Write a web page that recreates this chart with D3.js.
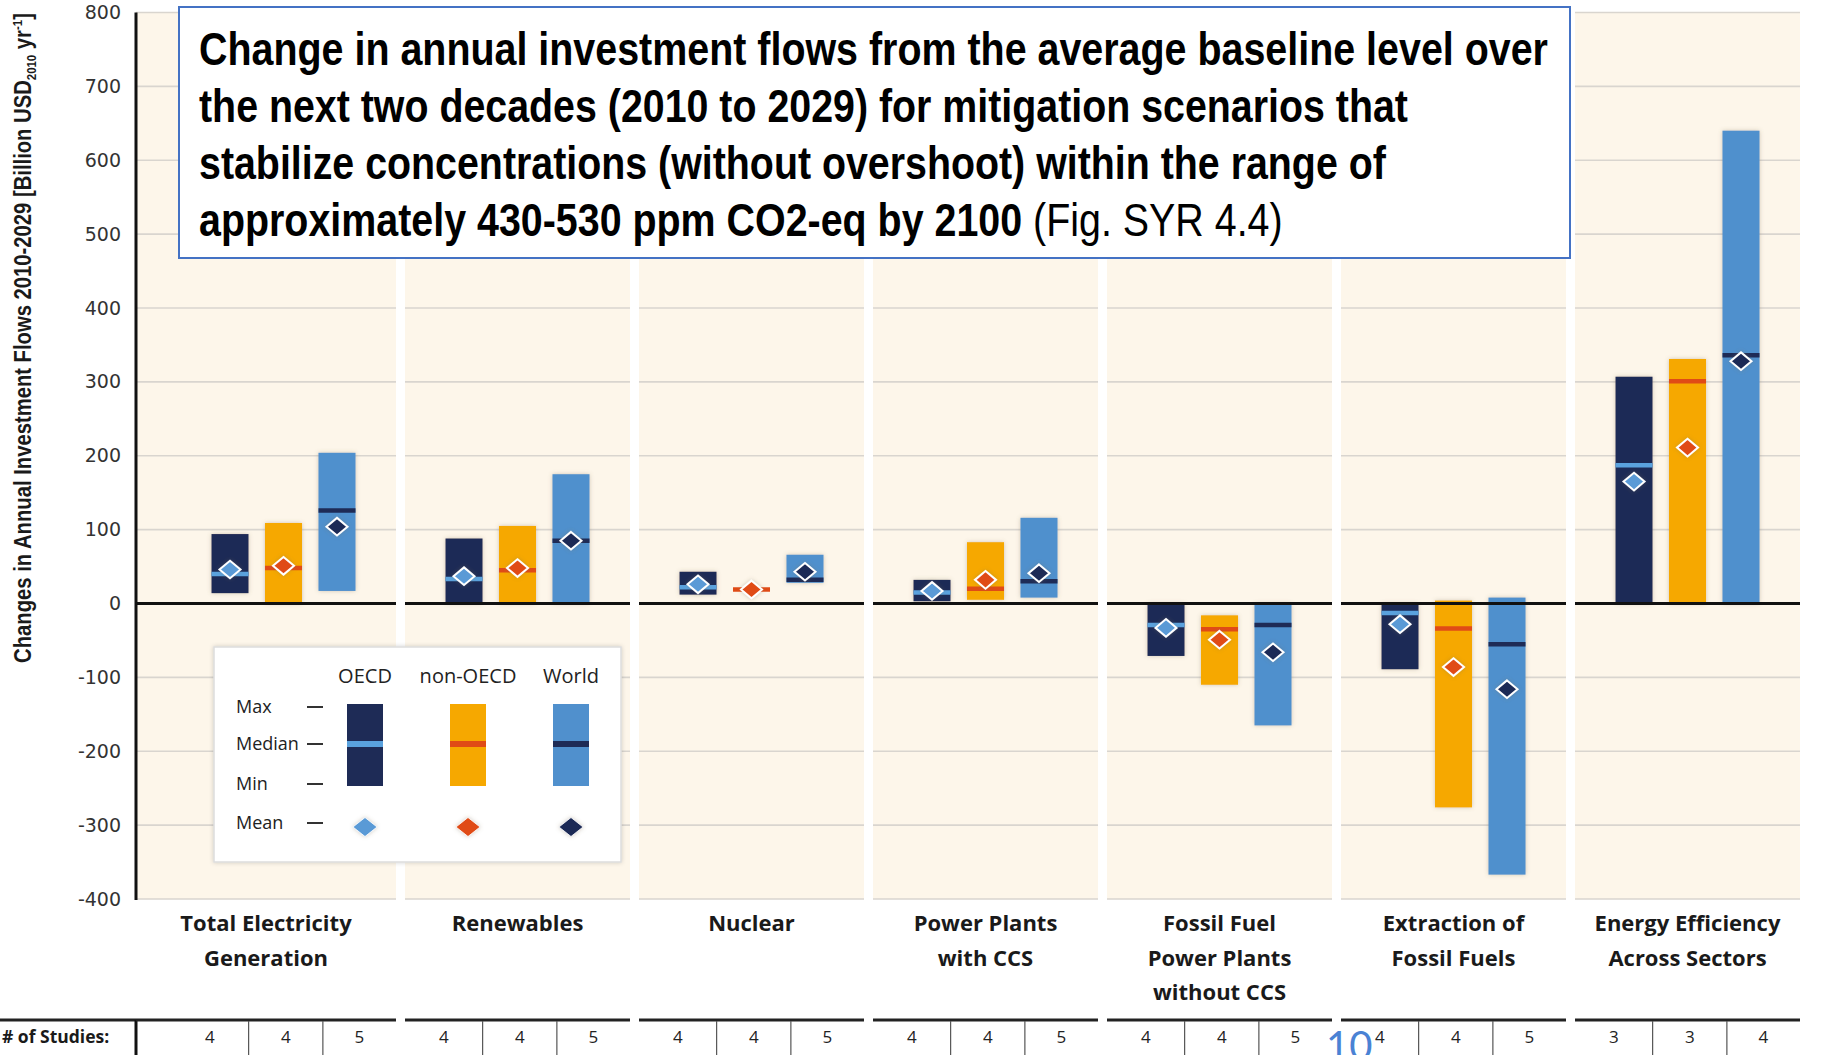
<!DOCTYPE html>
<html>
<head>
<meta charset="utf-8">
<script src="https://cdn.jsdelivr.net/npm/d3@7"></script>
<style>
  body { margin:0; background:#ffffff; }
  svg { display:block; }
</style>
</head>
<body>
<svg id="chart" width="1825" height="1055"></svg>
<script>
// ---- data (Billion USD2010 / yr) ----
var categories = [
  ["Total Electricity","Generation"],
  ["Renewables"],
  ["Nuclear"],
  ["Power Plants","with CCS"],
  ["Fossil Fuel","Power Plants","without CCS"],
  ["Extraction of","Fossil Fuels"],
  ["Energy Efficiency","Across Sectors"]
];
var regions = ["OECD","non-OECD","World"];

var oecdMax    = [ 94,  88, 43, 32,   0,    0, 307];
var oecdMin    = [ 14,   0, 12,  3, -71,  -89,   0];
var oecdMedian = [ 40,  33, 22, 15, -29,  -13, 187];
var oecdMean   = [ 46,  37, 26, 17, -33,  -28, 165];

var nonMax     = [109, 105, 19, 83, -16,    4, 331];
var nonMin     = [  0,   0, 19,  5, -110, -276,  0];
var nonMedian  = [ 48,  45, 19, 20, -35,  -34, 301];
var nonMean    = [ 51,  48, 19, 32, -49,  -86, 211];

var worldMax    = [204, 175, 66, 116,    0,    8, 640];
var worldMin    = [ 17,   0, 28,   8, -165, -367,   0];
var worldMedian = [126,  85, 32,  30,  -29,  -55, 336];
var worldMean   = [104,  85, 43,  41,  -66, -116, 328];

var studies = [[4,4,5],[4,4,5],[4,4,5],[4,4,5],[4,4,5],[4,4,5],[3,3,4]];

var yTicks = [-400,-300,-200,-100,0,100,200,300,400,500,600,700,800];

var barColor    = {"OECD":"#1e2b56","non-OECD":"#f6a800","World":"#5090cd"};
var medianColor = {"OECD":"#5aa2de","non-OECD":"#e04b16","World":"#1e2b56"};
var meanColor   = {"OECD":"#5a9ad6","non-OECD":"#e04b16","World":"#1e2b56"};

var series = {
  "OECD":    {max:oecdMax,  min:oecdMin,  median:oecdMedian,  mean:oecdMean},
  "non-OECD":{max:nonMax,   min:nonMin,   median:nonMedian,   mean:nonMean},
  "World":   {max:worldMax, min:worldMin, median:worldMedian, mean:worldMean}
};

var svg = d3.select("#chart");
var axisX = 136;

var catKeys = categories.map(function(c){ return c.join(" "); });

var x = d3.scaleBand().domain(catKeys).range([171, 1800]).paddingInner(0.0385).paddingOuter(0);
var inner = d3.scaleBand().domain(regions).range([40.5, 184.5]).paddingInner(0.308);
var y = d3.scaleLinear().domain([-400, 800]).range([899, 12.5]);

var defs = svg.append("defs");
var f = defs.append("filter").attr("id","shadow").attr("x","-30%").attr("y","-30%").attr("width","160%").attr("height","160%");
f.append("feDropShadow").attr("dx",0).attr("dy",0).attr("stdDeviation",2.2).attr("flood-color","#7a6a50").attr("flood-opacity",0.35);
var f2 = defs.append("filter").attr("id","boxshadow").attr("x","-10%").attr("y","-10%").attr("width","120%").attr("height","120%");
f2.append("feDropShadow").attr("dx",0).attr("dy",0).attr("stdDeviation",2).attr("flood-color","#000").attr("flood-opacity",0.18);

// squeeze a text element along its own direction so it spans the given length
function fitWidth(sel, len, base){
  var w = sel.node().getComputedTextLength();
  sel.attr("transform", base + " scale(" + (len/w) + ",1)");
}

// ---- panels ----
function panelLeft(i){ return i===0 ? axisX : x(catKeys[i]); }
function panelRight(i){ return x(catKeys[i]) + x.bandwidth(); }

var panels = svg.append("g");
catKeys.forEach(function(k, i){
  var x0 = panelLeft(i), x1 = panelRight(i);
  panels.append("rect")
    .attr("x", x0).attr("y", y(800))
    .attr("width", x1-x0).attr("height", y(-400)-y(800))
    .attr("fill","#fdf6ea");
  yTicks.forEach(function(t){
    if(t===0) return;
    panels.append("line")
      .attr("x1",x0).attr("x2",x1).attr("y1",y(t)).attr("y2",y(t))
      .attr("stroke","#d9d5cf").attr("stroke-width",1.6);
  });
});

// ---- bars ----
var marks = svg.append("g");
catKeys.forEach(function(k, i){
  regions.forEach(function(r){
    var s = series[r];
    var bx = x(k) + inner(r), bw = inner.bandwidth();
    var top = y(Math.max(s.max[i], s.min[i])), bot = y(Math.min(s.max[i], s.min[i]));
    if(bot-top > 0.5){
      marks.append("rect")
        .attr("x",bx).attr("y",top).attr("width",bw).attr("height",bot-top)
        .attr("fill",barColor[r]).attr("filter","url(#shadow)");
    }
  });
});

// zero line (per panel)
catKeys.forEach(function(k, i){
  svg.append("line")
    .attr("x1",panelLeft(i)).attr("x2",panelRight(i))
    .attr("y1",y(0)).attr("y2",y(0))
    .attr("stroke","#111").attr("stroke-width",3);
});

var marks2 = svg.append("g");
catKeys.forEach(function(k, i){
  regions.forEach(function(r){
    var s = series[r];
    var bx = x(k) + inner(r), bw = inner.bandwidth();
    marks2.append("line")
      .attr("x1",bx).attr("x2",bx+bw)
      .attr("y1",y(s.median[i])).attr("y2",y(s.median[i]))
      .attr("stroke",medianColor[r]).attr("stroke-width",4.5);
  });
});

function diamond(g, cx, cy, color, w, h, sw){
  g.append("path")
    .attr("d","M"+cx+","+(cy-h)+"L"+(cx+w)+","+cy+"L"+cx+","+(cy+h)+"L"+(cx-w)+","+cy+"Z")
    .attr("fill",color).attr("stroke","#ffffff").attr("stroke-width",sw)
    .attr("filter","url(#shadow)");
}
catKeys.forEach(function(k, i){
  regions.forEach(function(r){
    var s = series[r];
    var cx = x(k) + inner(r) + inner.bandwidth()/2;
    diamond(marks2, cx, y(s.mean[i]), meanColor[r], 10.5, 8.8, 2);
  });
});

// ---- y axis ----
svg.append("line").attr("x1",axisX).attr("x2",axisX).attr("y1",y(800)).attr("y2",y(-400)+1)
  .attr("stroke","#111").attr("stroke-width",3);

var yAxis = d3.axisLeft(y).tickValues(yTicks).tickSize(0).tickPadding(0)
  .tickFormat(function(d){ return String(d); });
var ya = svg.append("g").attr("transform","translate(121,0)").call(yAxis);
ya.select(".domain").remove();
ya.selectAll("text")
  .style("font-family","'DejaVu Sans', sans-serif").style("font-size","19px").attr("fill","#333");

var yt = svg.append("text")
  .attr("text-anchor","middle")
  .style("font-family","'Liberation Sans', Arial, sans-serif")
  .style("font-size","23px").style("font-weight","bold").attr("fill","#1a1a1a");
yt.append("tspan").text("Changes in Annual Investment Flows 2010-2029 [Billion USD");
yt.append("tspan").attr("font-size","13px").attr("dy",5).text("2010");
yt.append("tspan").attr("dy",-5).text(" yr");
yt.append("tspan").attr("font-size","13px").attr("dy",-9).text("-1");
yt.append("tspan").attr("dy",9).text("]");
fitWidth(yt, 650, "translate(31,338) rotate(-90)");

// ---- category labels ----
catKeys.forEach(function(k, i){
  var cx = (panelLeft(i) + panelRight(i))/2;
  var t = svg.append("text").attr("text-anchor","middle")
    .style("font-family","'Open Sans', sans-serif").style("font-size","22px").style("font-weight","bold")
    .attr("fill","#1a1a1a");
  categories[i].forEach(function(line, j){
    t.append("tspan").attr("x",cx).attr("y",931 + j*34.5).text(line);
  });
});

// ---- # of studies table ----
var tableTop = 1020;
svg.append("line").attr("x1",0).attr("x2",axisX).attr("y1",tableTop).attr("y2",tableTop)
  .attr("stroke","#222").attr("stroke-width",3);
svg.append("line").attr("x1",axisX).attr("x2",axisX).attr("y1",tableTop).attr("y2",1055)
  .attr("stroke","#111").attr("stroke-width",3);
svg.append("text").attr("x",2).attr("y",1043)
  .style("font-family","'Open Sans', sans-serif").style("font-size","17.5px").style("font-weight","bold")
  .attr("fill","#1a1a1a").text("# of Studies:");

var cellSeps = [0.345, 0.675];
catKeys.forEach(function(k, i){
  var s0 = x(k), w = x.bandwidth();
  svg.append("line").attr("x1",panelLeft(i)).attr("x2",panelRight(i)).attr("y1",tableTop).attr("y2",tableTop)
    .attr("stroke","#222").attr("stroke-width",3);
  cellSeps.forEach(function(p){
    svg.append("line").attr("x1",s0+p*w).attr("x2",s0+p*w).attr("y1",tableTop+1).attr("y2",1055)
      .attr("stroke","#555").attr("stroke-width",1.2);
  });
  var edges = [0, cellSeps[0], cellSeps[1], 1];
  studies[i].forEach(function(n, j){
    svg.append("text").attr("x", s0 + (edges[j]+edges[j+1])/2*w).attr("y",1043)
      .attr("text-anchor","middle")
      .style("font-family","'Open Sans',sans-serif").style("font-size","17px")
      .attr("fill","#222").text(n);
  });
});

// ---- legend ----
var lg = svg.append("g");
lg.append("rect").attr("x",214).attr("y",647).attr("width",407).attr("height",215)
  .attr("fill","#ffffff").attr("stroke","#dddddd").attr("stroke-width",1.5).attr("filter","url(#boxshadow)");
var lx = d3.scalePoint().domain(regions).range([365, 571]);
regions.forEach(function(r){
  lg.append("text").attr("x",lx(r)).attr("y",683).attr("text-anchor","middle")
    .style("font-family","'Open Sans', sans-serif").style("font-size","20px").attr("fill","#222").text(r);
  lg.append("rect").attr("x",lx(r)-18).attr("y",704).attr("width",36).attr("height",82)
    .attr("fill",barColor[r]);
  lg.append("line").attr("x1",lx(r)-18).attr("x2",lx(r)+18).attr("y1",744).attr("y2",744)
    .attr("stroke",medianColor[r]).attr("stroke-width",6);
  diamond(lg, lx(r), 827, meanColor[r], 12, 9.5, 0.8);
});
var legendRows = [["Max",707],["Median",744],["Min",784],["Mean",823]];
legendRows.forEach(function(row){
  lg.append("text").attr("x",236).attr("y",row[1]+6)
    .style("font-family","'Open Sans', sans-serif").style("font-size","18px").attr("fill","#222").text(row[0]);
  lg.append("line").attr("x1",307).attr("x2",323).attr("y1",row[1]).attr("y2",row[1])
    .attr("stroke","#333").attr("stroke-width",2);
});

// ---- title box ----
svg.append("rect").attr("x",179).attr("y",7).attr("width",1391).attr("height",251)
  .attr("fill","#ffffff").attr("stroke","#4472c4").attr("stroke-width",2);
var titleLines = [
  ["Change in annual investment flows from the average baseline level over", "", 1349],
  ["the next two decades (2010 to 2029) for mitigation scenarios that", "", 1209],
  ["stabilize concentrations (without overshoot) within the range of", "", 1187],
  ["approximately 430-530 ppm CO2-eq by 2100", " (Fig. SYR 4.4)", 1084]
];
titleLines.forEach(function(l, j){
  var tt = svg.append("text").attr("x",0).attr("y",0)
    .style("font-family","'Liberation Sans', Arial, sans-serif")
    .style("font-size","46px").attr("fill","#000");
  tt.append("tspan").style("font-weight","bold").text(l[0]);
  if(l[1]) tt.append("tspan").style("font-weight","normal").text(l[1]);
  fitWidth(tt, l[2], "translate(199," + (65 + j*57) + ")");
});

// page number overlay
svg.append("text").attr("x",1326).attr("y",1060)
  .style("font-family","Lato, 'Open Sans', sans-serif").style("font-size","40px")
  .attr("fill","#4a82d4").text("10");
</script>
</body>
</html>
